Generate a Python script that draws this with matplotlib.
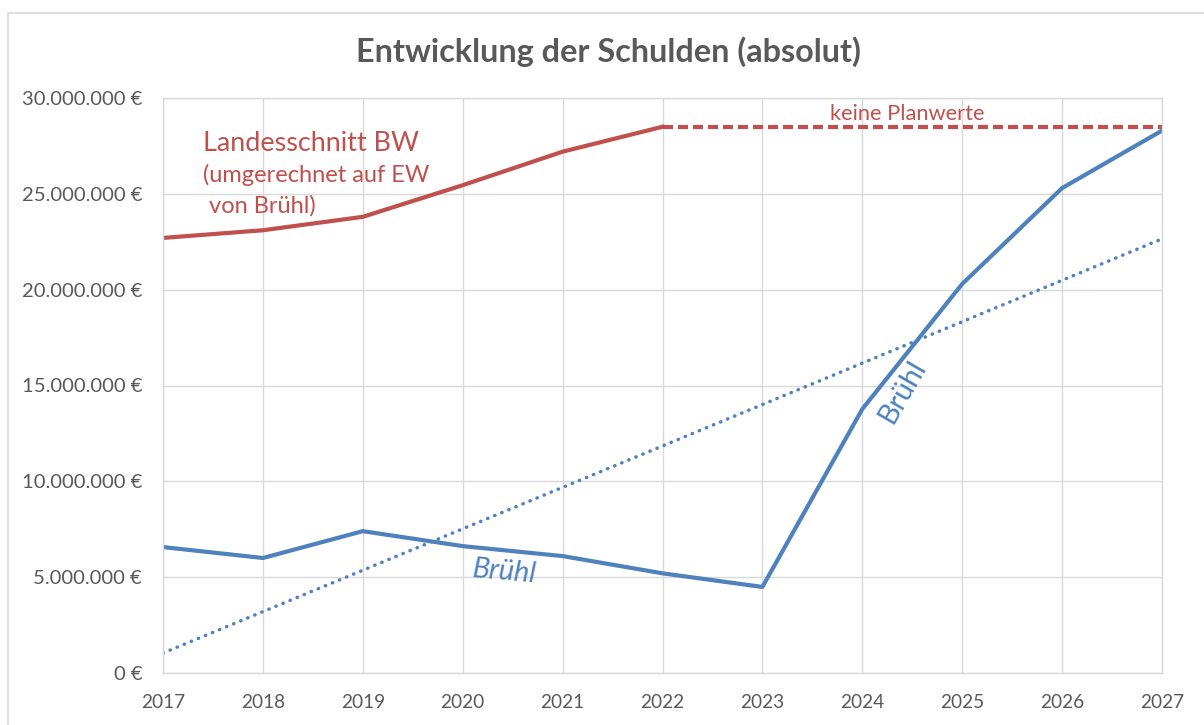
import matplotlib.pyplot as plt
from matplotlib.patches import Rectangle
from matplotlib.ticker import FuncFormatter

# Data (values in euro)
years = [2017, 2018, 2019, 2020, 2021, 2022, 2023, 2024, 2025, 2026, 2027]
bruehl = [6.57e6, 6.0e6, 7.4e6, 6.62e6, 6.1e6, 5.2e6, 4.49e6, 13.77e6, 20.3e6, 25.3e6, 28.3e6]
land_years = [2017, 2018, 2019, 2020, 2021, 2022]
land = [22.7e6, 23.1e6, 23.8e6, 25.45e6, 27.2e6, 28.5e6]
plan_years = [2022, 2027]
plan = [28.5e6, 28.5e6]
trend_years = [2017, 2027]
trend = [1.04e6, 22.65e6]

BLUE = "#4F81BD"
RED = "#C0504D"
GRAY = "#595959"

plt.rcParams["font.family"] = ["Lato", "DejaVu Sans"]


def euro(v, pos):
    return f"{int(v):,} €".replace(",", ".")


def fit(txt, width_px, renderer):
    # scale the font so the text is as wide as in the reference
    w = txt.get_window_extent(renderer).width
    txt.set_fontsize(txt.get_fontsize() * width_px / w)


def main():
    fig = plt.figure(figsize=(12.04, 7.25), dpi=100)
    # outer chart frame
    fig.patches.append(Rectangle((8 / 1204, -0.1), 1.2, 1 - 13 / 725 + 0.1,
                                 transform=fig.transFigure, fill=False,
                                 edgecolor="#d9d9d9", linewidth=1.2))
    ax = fig.add_axes([163 / 1204, 1 - 673 / 725, 999 / 1204, 575 / 725])

    ax.plot(land_years, land, color=RED, linewidth=3)
    ax.plot(plan_years, plan, color=RED, linewidth=3, linestyle=(0, (2.4, 1.2)))
    ax.plot(trend_years, trend, color=BLUE, linewidth=2.5, linestyle=(0, (0.1, 2.1)),
            dash_capstyle="round")
    ax.plot(years, bruehl, color=BLUE, linewidth=3)

    ax.set_xlim(2017, 2027)
    ax.set_ylim(0, 30e6)
    ax.set_xticks(years)
    ax.set_yticks(range(0, 30000001, 5000000))
    ax.yaxis.set_major_formatter(FuncFormatter(euro))
    ax.grid(True, color="#d9d9d9", linewidth=1)
    ax.set_axisbelow(True)
    for s in ax.spines.values():
        s.set_color("#d9d9d9")
        s.set_linewidth(1)
    ax.tick_params(length=0, labelsize=12.5, labelcolor=GRAY)

    title = fig.text(609 / 1204, 1 - 62 / 725, "Entwicklung der Schulden (absolut)",
                     ha="center", va="baseline", fontsize=20, fontweight="bold", color=GRAY)
    t1 = ax.text(2017.40, 27.23e6, "Landesschnitt BW", color=RED, fontsize=17,
                 va="baseline")
    t2 = ax.text(2017.40, 25.62e6, "(umgerechnet auf EW", color=RED, fontsize=14,
                 va="baseline")
    t3 = ax.text(2017.46, 24.0e6, "von Brühl)", color=RED, fontsize=14, va="baseline")
    t4 = ax.text(2024.45, 28.85e6, "keine Planwerte", color=RED, fontsize=12.5,
                 ha="center", va="baseline")
    t5 = ax.text(2020.42, 5.27e6, "Brühl", color=BLUE, fontsize=16, ha="center",
                 va="center", style="italic", rotation=-5)
    t6 = ax.text(2024.40, 14.66e6, "Brühl", color=BLUE, fontsize=16, ha="center",
                 va="center", rotation=60)

    renderer = fig.canvas.get_renderer()
    fit(title, 504, renderer)
    fit(t1, 216, renderer)
    fit(t2, 227, renderer)
    fit(t4, 155, renderer)
    fit(t5, 66, renderer)
    t3.set_fontsize(t2.get_fontsize())
    t6.set_fontsize(t5.get_fontsize())

    # tick label sizes from the reference widths
    fig.canvas.draw()
    ylab = ax.get_yticklabels()[-1]
    ysize = 12.5 * 120 / ylab.get_window_extent(renderer).width
    xlab = ax.get_xticklabels()[0]
    xsize = 12.5 * 44 / xlab.get_window_extent(renderer).width
    ax.tick_params(axis="y", labelsize=ysize, pad=15)
    ax.tick_params(axis="x", labelsize=xsize, pad=15)

    fig.savefig("out.png", dpi=100)
    plt.close(fig)


if __name__ == "__main__":
    main()
